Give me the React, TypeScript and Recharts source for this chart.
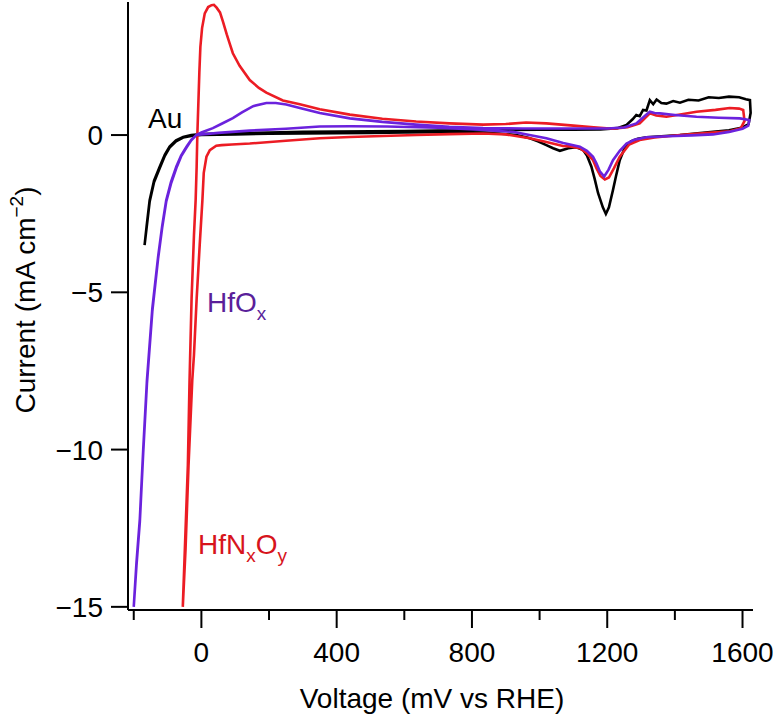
import React from 'react';
import { LineChart, Line, XAxis, YAxis } from 'recharts';

// [voltage mV vs RHE, current mA cm^-2], one closed CV loop each
const auLoop: [number, number][] = [
  [-168, -3.5], [-162, -2.9], [-153, -2.07], [-140, -1.45], [-123, -1.0], [-108, -0.62], [-94, -0.37],
  [-75, -0.17], [-54, -0.06], [-30, 0.0], [0, 0.03], [100, 0.06], [200, 0.08], [300, 0.1], [400, 0.11],
  [500, 0.12], [600, 0.13], [700, 0.14], [800, 0.15], [900, 0.16], [1000, 0.17], [1100, 0.17], [1180, 0.18],
  [1230, 0.22], [1257, 0.32], [1275, 0.5], [1286, 0.64], [1296, 0.6], [1306, 0.8], [1316, 0.78], [1326, 1.11],
  [1336, 0.98], [1346, 1.13], [1360, 1.02], [1375, 1.0], [1395, 1.08], [1415, 1.03], [1440, 1.12], [1470, 1.1],
  [1500, 1.2], [1530, 1.18], [1560, 1.22], [1590, 1.2], [1610, 1.14], [1622, 1.11],
  [1624, 0.7], [1618, 0.35], [1600, 0.24], [1560, 0.15], [1513, 0.1], [1460, 0.05], [1415, 0.0], [1360, -0.04],
  [1316, -0.07], [1290, -0.12], [1270, -0.2], [1250, -0.45], [1237, -0.8], [1226, -1.3], [1217, -1.75],
  [1205, -2.3], [1196, -2.51], [1187, -2.3], [1173, -1.85], [1163, -1.4], [1153, -1.0], [1140, -0.65],
  [1129, -0.48], [1109, -0.39], [1085, -0.42], [1060, -0.5], [1040, -0.42], [1020, -0.32], [995, -0.2],
  [971, -0.1], [932, 0.0], [880, 0.05], [800, 0.08], [700, 0.09], [600, 0.08], [500, 0.07], [400, 0.06],
  [300, 0.05], [200, 0.04], [100, 0.02], [0, 0.0], [-30, -0.03], [-54, -0.08], [-75, -0.2], [-94, -0.4],
  [-108, -0.66], [-123, -1.05], [-140, -1.5], [-153, -2.12], [-162, -2.95], [-168, -3.5],
];

const hfnoLoop: [number, number][] = [
  [-55, -15], [-49, -13.2], [-40, -10.5], [-35, -7.8], [-29, -5.2], [-22, -3.2], [-17, -2.07], [-14, -1.0],
  [-12, 0], [-9, 1.0], [-6, 2.0], [-3, 2.8], [2, 3.4], [10, 3.87], [20, 4.07], [30, 4.13], [37, 4.14],
  [45, 4.05], [55, 3.9], [64, 3.6], [75, 3.2], [84, 2.9], [93, 2.6], [113, 2.2], [143, 1.75], [170, 1.5],
  [192, 1.35], [241, 1.1], [291, 0.98], [350, 0.82], [439, 0.65], [535, 0.52], [635, 0.43], [733, 0.37],
  [833, 0.33], [900, 0.35], [960, 0.4], [1020, 0.37], [1100, 0.3], [1160, 0.25], [1217, 0.2], [1260, 0.25],
  [1296, 0.37], [1326, 0.69], [1345, 0.62], [1375, 0.58], [1420, 0.66], [1464, 0.74], [1520, 0.8],
  [1562, 0.86], [1590, 0.84], [1602, 0.8],
  [1606, 0.45], [1595, 0.22], [1562, 0.12], [1500, 0.07], [1415, 0.0], [1340, -0.08], [1296, -0.16],
  [1265, -0.3], [1237, -0.69], [1220, -1.05], [1205, -1.35], [1193, -1.41], [1180, -1.3], [1168, -1.05],
  [1158, -0.8], [1140, -0.58], [1119, -0.42], [1090, -0.36], [1069, -0.35], [1020, -0.22], [971, -0.1],
  [900, 0.02], [833, 0.05], [733, 0.03], [635, 0.0], [535, -0.03], [439, -0.06], [350, -0.1], [250, -0.18],
  [143, -0.27], [90, -0.3], [60, -0.32], [44, -0.34], [25, -0.48], [15, -0.69], [7, -1.2], [3, -2.07],
  [-5, -3.5], [-14, -5.2], [-22, -7.0], [-27, -7.8], [-38, -10.5], [-47, -13.2], [-55, -15],
];

const hfoLoop: [number, number][] = [
  [-200, -15], [-192, -13.6], [-182, -12.2], [-172, -10], [-161, -7.8], [-145, -5.5], [-128, -3.87],
  [-116, -2.9], [-104, -2.07], [-90, -1.5], [-74, -1.0], [-60, -0.65], [-44, -0.37], [-30, -0.15], [-15, 0.0],
  [0, 0.08], [34, 0.22], [60, 0.36], [93, 0.54], [120, 0.72], [153, 0.92], [192, 1.02], [220, 1.02],
  [251, 0.97], [291, 0.86], [350, 0.7], [439, 0.53], [535, 0.42], [635, 0.33], [733, 0.26], [833, 0.22],
  [950, 0.21], [1100, 0.21], [1200, 0.21], [1250, 0.24], [1286, 0.37], [1310, 0.6], [1326, 0.74], [1340, 0.7],
  [1356, 0.69], [1400, 0.64], [1464, 0.58], [1530, 0.55], [1592, 0.53], [1620, 0.48],
  [1617, 0.3], [1600, 0.2], [1560, 0.1], [1513, 0.02], [1450, -0.01], [1380, -0.04], [1316, -0.07],
  [1280, -0.15], [1257, -0.27], [1237, -0.5], [1217, -0.8], [1204, -1.1], [1191, -1.32], [1178, -1.15],
  [1168, -0.9], [1158, -0.69], [1140, -0.5], [1119, -0.37], [1070, -0.25], [1020, -0.1], [970, 0.0],
  [922, 0.1], [823, 0.17], [700, 0.23], [550, 0.27], [439, 0.28], [350, 0.27], [250, 0.2], [143, 0.14],
  [50, 0.07], [-15, 0.0], [-30, -0.17], [-44, -0.4], [-60, -0.68], [-74, -1.05], [-90, -1.55], [-104, -2.12],
  [-116, -2.95], [-128, -3.93], [-145, -5.6], [-161, -7.9], [-172, -10.1], [-182, -12.3], [-192, -13.7],
  [-200, -15],
];

const xTicks = [-200, 0, 200, 400, 600, 800, 1000, 1200, 1400, 1600];
const yTicks = [-15, -10, -5, 0];

const FONT = '"Liberation Sans", Arial, Helvetica, sans-serif';
const FS = 28;
const RED = '#ec1c24';
const PURPLE = '#6b22dd';

const toPoints = (loop: [number, number][]) => loop.map(([v, i]) => ({ v, i }));

// major ticks every 400 mV get a label and a longer line
const XTick = ({ x, y, payload }: any) => {
  const major = payload.value % 400 === 0;
  return (
    <g>
      <line x1={x} y1={y} x2={x} y2={y + (major ? 18 : 10)} stroke="#000" strokeWidth={2} />
      {major && (
        <text x={x} y={y + 52} textAnchor="middle" fontSize={FS} fontFamily={FONT} fill="#000">
          {payload.value}
        </text>
      )}
    </g>
  );
};

const fmtY = (v: number) => (v < 0 ? `\u2212${-v}` : `${v}`);

export default function App() {
  return (
    <div style={{ position: 'absolute', left: 0, top: 0, width: 773, height: 714, background: '#fff' }}>
      <LineChart width={773} height={714} margin={{ top: 2, right: 20, bottom: 44, left: 28 }}>
        <XAxis
          xAxisId="b"
          type="number"
          dataKey="v"
          domain={[-217, 1631]}
          allowDataOverflow
          ticks={xTicks}
          height={60}
          tickSize={0}
          tickMargin={0}
          tickLine={false}
          tick={<XTick />}
          axisLine={{ stroke: '#000', strokeWidth: 2 }}
        />
        <XAxis
          xAxisId="t"
          orientation="top"
          type="number"
          domain={[-217, 1631]}
          allowDataOverflow
          height={0}
          tick={false}
          tickLine={false}
          axisLine={{ stroke: '#000', strokeWidth: 2 }}
        />
        <YAxis
          yAxisId="l"
          type="number"
          dataKey="i"
          domain={[-15.1, 4.23]}
          allowDataOverflow
          ticks={yTicks}
          width={100}
          tickSize={17}
          tickMargin={8}
          tickFormatter={fmtY}
          tick={{ fontSize: FS, fill: '#000', fontFamily: FONT }}
          tickLine={{ stroke: '#000', strokeWidth: 2 }}
          axisLine={{ stroke: '#000', strokeWidth: 2 }}
        />
        <YAxis
          yAxisId="r"
          orientation="right"
          type="number"
          domain={[-15.1, 4.23]}
          allowDataOverflow
          width={0}
          tick={false}
          tickLine={false}
          axisLine={{ stroke: '#000', strokeWidth: 2 }}
        />
        <Line xAxisId="b" yAxisId="l" data={toPoints(auLoop)} dataKey="i" type="linear" stroke="#000" strokeWidth={2.6} dot={false} isAnimationActive={false} />
        <Line xAxisId="b" yAxisId="l" data={toPoints(hfnoLoop)} dataKey="i" type="linear" stroke={RED} strokeWidth={2.6} dot={false} isAnimationActive={false} />
        <Line xAxisId="b" yAxisId="l" data={toPoints(hfoLoop)} dataKey="i" type="linear" stroke={PURPLE} strokeWidth={2.6} dot={false} isAnimationActive={false} />
      </LineChart>
      <svg width={773} height={714} style={{ position: 'absolute', left: 0, top: 0, pointerEvents: 'none' }} fontFamily={FONT}>
        <text x={432} y={708} textAnchor="middle" fontSize={FS} fill="#000">Voltage (mV vs RHE)</text>
        <text transform="translate(35,300) rotate(-90)" textAnchor="middle" fontSize={FS} fill="#000">
          Current (mA cm<tspan fontSize={19} dy={-12}>{'\u22122'}</tspan>
          <tspan dy={12}>)</tspan>
        </text>
        <text x={148} y={128} fontSize={FS} fill="#000">Au</text>
        <text x={207} y={312} fontSize={FS} fill="#5a1f9a">
          HfO<tspan fontSize={19} dy={8}>x</tspan>
        </text>
        <text x={198} y={554} fontSize={FS} fill="#d7141c">
          HfN<tspan fontSize={19} dy={8}>x</tspan>
          <tspan dy={-8}>O</tspan>
          <tspan fontSize={19} dy={8}>y</tspan>
        </text>
      </svg>
    </div>
  );
}
